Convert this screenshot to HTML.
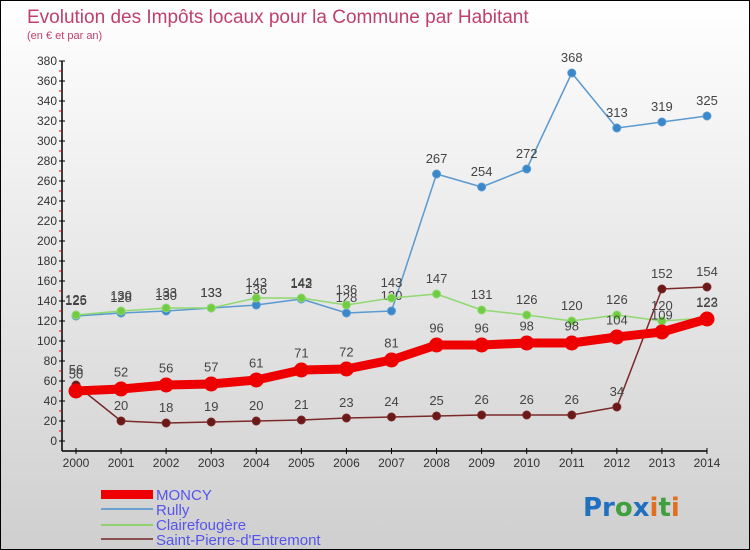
<!DOCTYPE html>
<html><head><meta charset="utf-8"><style>
body{margin:0}
#c{width:748px;height:548px;border:1px solid #000;background:linear-gradient(#fff,#cfcfcf);position:relative;overflow:hidden;font-family:"Liberation Sans",sans-serif}
</style></head><body>
<div id="c">
<svg id="s" width="748" height="548" style="position:absolute;left:0;top:0">
<text x="26" y="22" font-size="19" fill="#c0406a">Evolution des Impôts locaux pour la Commune par Habitant</text>
<text x="26" y="38" font-size="11" fill="#c0406a">(en € et par an)</text>
<g id="axes"></g><g id="series"></g>
<g>
<rect x="100" y="489" width="52" height="9" fill="#e00"/>
<line x1="100" y1="508" x2="152" y2="508" stroke="#6aa0d0" stroke-width="2"/>
<line x1="100" y1="524" x2="152" y2="524" stroke="#90d070" stroke-width="2"/>
<line x1="100" y1="538" x2="152" y2="538" stroke="#8a5050" stroke-width="2"/>
<g font-size="15" fill="#5555ee">
<text x="155" y="499">MONCY</text>
<text x="155" y="514">Rully</text>
<text x="155" y="529">Clairefougère</text>
<text x="155" y="544">Saint-Pierre-d'Entremont</text>
</g></g>
<g font-size="26" font-weight="bold" font-family="'DejaVu Sans',sans-serif">
<text x="582" y="515"><tspan fill="#2070c0">Pr</tspan><tspan fill="#40a040">o</tspan><tspan fill="#2070c0">x</tspan><tspan fill="#e07020">i</tspan><tspan fill="#40a040">t</tspan><tspan fill="#e07020">i</tspan></text>
</g>
</svg>
</div>
<script>
const years=[2000,2001,2002,2003,2004,2005,2006,2007,2008,2009,2010,2011,2012,2013,2014];
const moncy=[50,52,56,57,61,71,72,81,96,96,98,98,104,109,122];
const rully=[125,128,130,133,136,142,128,130,267,254,272,368,313,319,325];
const claire=[126,130,133,133,143,143,136,143,147,131,126,120,126,120,123];
const spe=[56,20,18,19,20,21,23,24,25,26,26,26,34,152,154];
const yTicks=[0,20,40,60,80,100,120,140,160,180,200,220,240,260,280,300,320,340,360,380];
const NS='http://www.w3.org/2000/svg';
const X=i=>75+i*45.07, Y=v=>440-v;
function mk(p,t,a){const e=document.createElementNS(NS,t);for(const k in a)e.setAttribute(k,a[k]);p.appendChild(e);return e;}
const ax=document.getElementById('axes');
const yl=mk(ax,'line',{x1:61,y1:60,x2:61,y2:450,stroke:'#000','stroke-width':1.5});


const xl=mk(ax,'line',{x1:61,y1:450,x2:706,y2:450,stroke:'#000','stroke-width':1.5});


yTicks.forEach(v=>{
 mk(ax,'line',{x1:58,y1:Y(v),x2:64,y2:Y(v),stroke:'#000'});
 if(v<380) mk(ax,'line',{x1:58,y1:Y(v+10),x2:61,y2:Y(v+10),stroke:'#e00'});
 const t=mk(ax,'text',{x:56,y:Y(v)+4,'font-size':12,fill:'#333','text-anchor':'end'});
 t.textContent=v;
 
 
});
years.forEach((y,i)=>{
 mk(ax,'line',{x1:X(i),y1:447,x2:X(i),y2:453,stroke:'#000'});
 const t=mk(ax,'text',{x:X(i),y:466,'font-size':12,fill:'#333','text-anchor':'middle'});
 t.textContent=y;
 
 
});
const sg=document.getElementById('series');
function draw(name,vals,col,w,r,dot){
 const g=mk(sg,'g',{});
 
 
 mk(g,'polyline',{points:vals.map((v,i)=>X(i)+','+Y(v)).join(' '),fill:'none',stroke:col,'stroke-width':w,'stroke-linejoin':'round'});
 vals.forEach((v,i)=>{
  const c=mk(g,'circle',{cx:X(i),cy:Y(v),r:r,fill:dot,stroke:col,'stroke-width':1});
  
  
  const t=mk(g,'text',{x:X(i),y:Y(v)-9-r/2,'font-size':13,fill:'#444','text-anchor':'middle'});
  t.textContent=v;
  
  
 });
}
draw('rully',rully,'#5a9ad0',1.5,4,'#3a88cc');
draw('clairefougere',claire,'#90d870',1.5,4,'#70cc40');
draw('saint-pierre',spe,'#7a2a2a',1.5,4,'#6a1818');
draw('moncy',moncy,'#ee0000',9,7,'#ee0000');
</script>
</body></html>
